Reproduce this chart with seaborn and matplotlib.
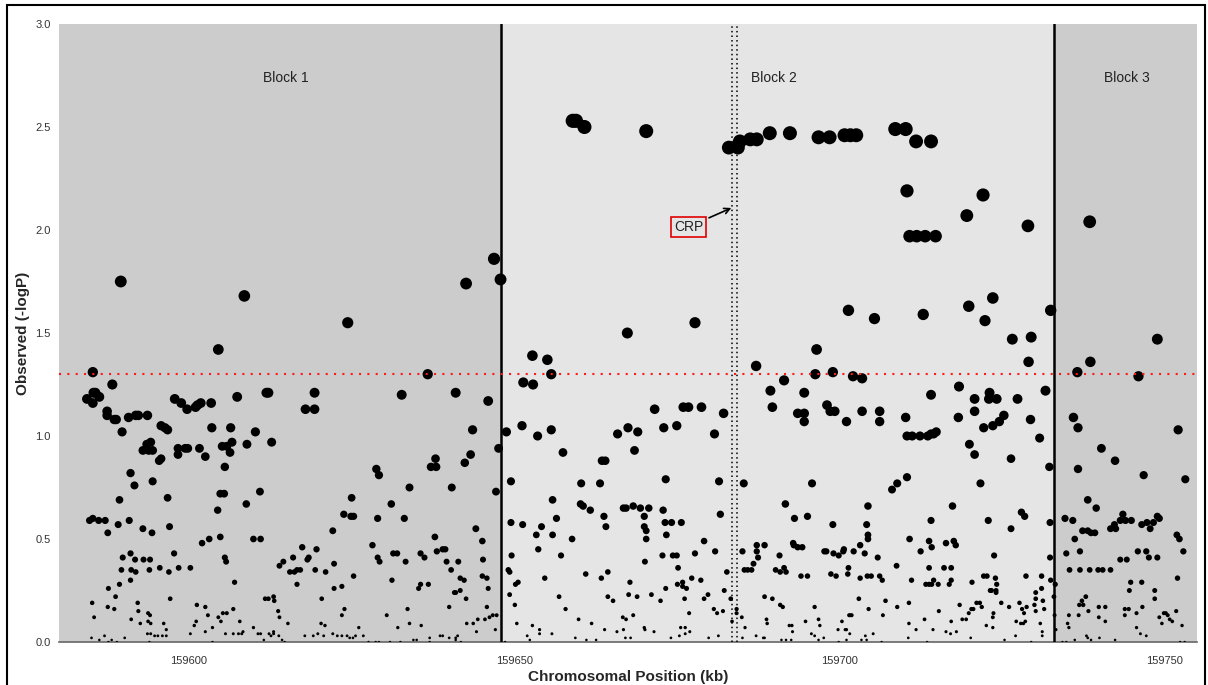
import numpy as np
import pandas as pd
import matplotlib
matplotlib.use("Agg")
import matplotlib.pyplot as plt
from matplotlib.patches import Rectangle
import seaborn as sns

# ---------------- data ----------------
block1_pos = [
159585.2,159589.5,159608.5,159604.5,159624.4,159642.6,159646.9,159647.9,159636.7,
159584.3,159585.2,159585.3,159585.6,159586.2,159588.2,159587.4,159587.4,159588.5,159588.8,
159589.7,159590.7,159591.8,159592.2,159593.6,159592.9,159593.5,159594.1,159593.8,159594.4,
159595.4,159595.7,159594.4,159595.7,159596.3,159596.7,159597.8,159598.8,159599.7,159598.3,
159598.3,159599.4,159599.8,159601.0,159601.3,159601.8,159603.4,159601.6,159602.5,159603.5,
159606.4,159607.4,159605.1,159605.8,159606.6,159606.3,159605.5,159604.8,159605.4,159604.4,
159608.9,159610.2,159612.7,159610.9,159608.8,159611.9,159612.2,159617.9,159619.3,159619.3,
159632.7,159641.0,159646.0,159643.6,159643.3,159642.4,159647.6,159647.2,159628.8,159629.2,
159633.9,159637.2,159638.0,159637.9,159640.4,159631.1,159625.0,159623.8,159624.9,159625.3,
159622.1,159629.0,159633.1,159644.1,159645.1,159591.0,159591.6,159589.3,159596.7,159597.0,
159584.7,159585.2,159586.1,159587.1,159587.5,159589.1,159590.8,159592.9,159594.3,159602.0,
159603.1,159604.8,159609.9,159611.0,159605.5,159605.7,159607.0,159628.2,159629.0,159629.3,
159631.4,159632.0,159633.3,159635.6,159636.2,159637.8,159638.1,159639.0,159639.4,159639.6,
159640.3,159641.4,159641.7,159642.3,159640.8,159641.0,159641.7,159642.6,159645.2,159645.1,
159645.8,159646.0,159645.8,159631.2,159635.3,159635.6,159636.8,159633.6,159630.4,159640.0,
159633.9,159632.1,159635.7,159642.7,159643.7,159644.4,159645.5,159646.2,159646.7,159647.3,
159644.2,159647.1,159613.9,159614.5,159615.5,159616.2,159616.6,159617.1,159616.0,159617.4,
159618.2,159618.4,159616.6,159619.4,159619.6,159621.0,159622.3,159622.3,159623.5,159623.5,
159623.9,159625.3,159620.4,159615.2,159613.7,159613.9,159611.7,159612.2,159613.0,159613.1,
159620.3,159620.9,159626.1,159613.0,159613.0,159613.8,159612.6,159611.5,159612.3,159610.6,
159611.0,159609.9,159607.8,159606.8,159608.1,159608.3,159607.6,159606.8,159605.8,159605.2,
159604.9,159604.5,159605.6,159603.6,159603.6,159602.9,159602.5,159601.2,159601.1,159600.8,
159602.5,159600.2,159598.4,159600.2,159597.7,159596.9,159595.5,159597.1,159594.0,159593.0,
159591.7,159591.0,159589.8,159589.6,159591.1,159591.8,159593.9,159591.0,159589.3,159587.6,
159588.7,159585.1,159585.4,159587.5,159588.5,159592.1,159592.2,159591.1,159592.5,159593.7,
159594.0,159593.7,159594.1,159596.1,159596.5,159593.6,159594.1,159594.7,159595.2,159595.9,
159596.5,159585.0,159586.2,159587.0,159587.6,159588.1,159588.9,159590.1,159593.9,159626.8,
159627.6,159628.7,159629.2,159630.9,159632.5,159634.5,159635.0,159637.0,159637.0,159638.6,
159639.0,159640.0,159641.0,159641.3,159641.0,159641.8,159622.1,159622.8,159623.5,159624.3,
159624.7,159625.2,159625.6,159617.8,159619.1,159619.8,159620.7,159614.3,159614.7,
]
block1_logp = [
1.31,1.75,1.68,1.42,1.55,1.74,1.86,1.76,1.30,
1.18,1.16,1.21,1.21,1.19,1.25,1.12,1.10,1.08,1.08,
1.02,1.09,1.10,1.10,1.10,0.93,0.96,0.97,0.93,0.93,
0.88,0.89,0.78,1.05,1.04,1.03,1.18,1.16,1.13,0.94,
0.91,0.94,0.94,1.14,1.15,1.16,1.16,0.94,0.90,1.04,
1.04,1.19,0.95,0.95,0.97,0.92,0.85,0.72,0.72,0.64,
0.96,1.02,0.97,0.73,0.67,1.21,1.21,1.13,1.13,1.21,
1.20,1.21,1.17,1.03,0.91,0.87,0.94,0.73,0.84,0.81,
0.75,0.85,0.85,0.89,0.75,0.67,0.70,0.62,0.61,0.61,
0.54,0.60,0.60,0.55,0.49,0.82,0.76,0.69,0.70,0.56,
0.59,0.60,0.59,0.59,0.53,0.57,0.59,0.55,0.53,0.48,
0.50,0.51,0.50,0.50,0.41,0.39,0.29,0.47,0.41,0.39,
0.43,0.43,0.39,0.43,0.41,0.51,0.44,0.45,0.45,0.39,
0.35,0.39,0.31,0.30,0.24,0.24,0.25,0.21,0.40,0.32,
0.31,0.26,0.17,0.30,0.26,0.28,0.28,0.16,0.13,0.17,
0.09,0.07,0.08,0.09,0.09,0.11,0.11,0.12,0.13,0.13,
0.05,0.06,0.37,0.39,0.34,0.34,0.35,0.35,0.41,0.46,
0.40,0.41,0.28,0.35,0.45,0.34,0.38,0.26,0.27,0.13,
0.16,0.32,0.21,0.09,0.15,0.12,0.21,0.21,0.22,0.20,
0.09,0.08,0.07,0.05,0.04,0.03,0.03,0.01,0.04,0.04,
0.04,0.07,0.10,0.16,0.04,0.05,0.04,0.04,0.14,0.14,
0.10,0.12,0.04,0.07,0.00,0.13,0.17,0.18,0.10,0.08,
0.05,0.04,0.36,0.36,0.43,0.34,0.36,0.21,0.40,0.40,
0.40,0.43,0.41,0.35,0.35,0.34,0.35,0.30,0.28,0.26,
0.22,0.19,0.12,0.17,0.16,0.19,0.15,0.11,0.09,0.14,
0.13,0.10,0.09,0.09,0.06,0.04,0.04,0.03,0.03,0.03,
0.03,0.02,0.01,0.03,0.00,0.01,0.00,0.02,0.00,0.03,
0.00,0.00,0.00,0.00,0.00,0.01,0.01,0.02,0.00,0.03,
0.03,0.02,0.02,0.03,0.01,0.00,0.04,0.03,0.03,0.03,
0.02,0.02,0.03,0.03,0.03,0.04,0.03,0.01,0.00,
]

block2_pos = [
159659.0,159659.5,159660.8,159670.3,159683.0,159684.4,159684.7,159686.3,159687.3,159689.3,
159692.4,159667.4,159677.8,159652.8,159655.1,159655.7,159687.2,159696.8,159698.5,159700.8,
159701.7,159702.6,159708.6,159710.2,159711.8,159714.1,159710.4,159722.1,159719.6,159729.0,
159710.8,159711.9,159713.2,159714.8,159701.4,159705.4,159712.9,159719.9,159722.4,159723.6,
159726.6,159729.5,159732.5,159696.5,159729.1,159696.3,159699.0,159702.1,159703.5,
159648.8,159651.4,159652.9,159689.4,159691.5,159694.6,159689.7,159693.6,159694.6,159694.6,
159698.1,159698.6,159699.3,159701.1,159651.2,159653.6,159655.7,159657.5,159665.9,159667.5,
159669.0,159668.5,159671.6,159673.0,159675.0,159676.0,159676.8,159678.8,159682.2,159680.8,
159663.5,159664.0,159649.5,159660.3,159663.2,159673.3,159681.5,159685.3,159695.8,159655.9,
159660.2,159660.6,159661.7,159663.8,159664.1,159666.8,159667.2,159668.3,159669.4,159670.0,
159670.0,159670.3,159670.3,159670.7,159672.9,159673.2,159673.4,159674.2,159675.7,159681.7,
159691.7,159693.1,159695.1,159699.0,159649.5,159651.3,159654.2,159656.5,159653.4,159655.9,
159653.7,159658.9,159657.2,159649.6,159649.1,159649.3,159650.2,159650.6,159649.3,159650.1,
159650.4,159654.7,159656.9,159657.9,159661.0,159663.4,159664.4,159664.4,159665.2,159667.6,
159668.9,159667.8,159670.1,159671.1,159672.5,159672.8,159673.3,159674.4,159675.0,159675.2,
159675.1,159675.9,159675.9,159676.5,159676.2,159677.3,159677.8,159679.2,159678.7,159679.2,
159679.8,159680.9,159682.3,159682.7,159680.7,159681.2,159682.1,159683.3,159683.5,159684.2,
159684.2,159685.1,159685.4,159685.9,159686.5,159686.8,159687.3,159687.3,159687.5,159688.5,
159690.2,159690.8,159690.9,159691.5,159691.8,159692.9,159693.0,159693.6,159694.3,159694.1,
159695.1,159697.7,159698.0,159699.1,159699.9,159700.6,159698.7,159699.5,159701.3,159701.4,
159688.5,159689.7,159690.9,159691.3,159688.8,159688.9,159692.3,159692.7,159692.8,159694.8,
159696.2,159696.8,159697.0,159695.7,159696.2,159699.8,159700.4,159701.5,159701.1,159685.0,
159685.5,159685.1,159687.2,159688.3,159688.5,159691.1,159691.8,159692.6,159696.8,159697.6,
159699.9,159666.7,159667.2,159668.3,159666.8,159667.1,159667.9,159670.0,159670.1,159671.5,
159674.1,159675.4,159675.6,159676.3,159676.3,159677.0,159676.9,159679.9,159681.4,159663.9,
159665.8,159661.9,159661.1,159662.6,159659.9,159659.4,159655.8,159652.8,159653.9,159653.9,
159652.0,159652.4,159648.6,
159731.7,159718.4,159720.8,159723.1,159723.0,159724.2,159727.4,159714.1,159703.5,159706.2,
159706.2,159710.2,159710.4,159711.2,159712.4,159713.6,159714.1,159714.5,159714.9,159718.3,
159720.8,159722.2,159723.6,159724.6,159725.3,159729.4,159730.8,159720.0,159720.8,159726.4,
159732.3,159708.1,159708.9,159710.4,159721.7,159704.4,159704.2,159704.4,159704.4,159700.7,
159702.2,159703.2,159703.9,159705.9,159703.2,159704.3,159704.9,159706.2,159706.6,159710.8,
159708.8,159711.1,159712.5,159713.8,159714.2,159714.1,159713.8,159713.3,159713.8,159714.2,
159714.5,159715.2,159716.1,159716.4,159717.4,159717.6,159717.9,159717.2,159716.9,159717.2,
159722.9,159723.8,159720.4,159722.2,159722.7,159724.0,159724.2,159724.1,159724.1,159723.2,
159723.4,159726.4,159728.0,159728.5,159728.7,159731.1,159732.4,159732.4,159732.5,159731.1,
159730.2,159730.2,159730.0,159730.2,159731.3,159731.5,159730.9,159731.2,159731.2,159728.8,
159728.4,159728.6,159728.1,159727.7,159726.1,159724.9,159727.2,159727.9,159728.3,159727.1,
159723.7,159723.6,159723.6,159722.6,159725.4,159721.6,159721.9,159721.1,159720.3,159720.6,
159719.9,159718.9,159719.5,159718.5,159718.0,159717.2,159717.1,159716.4,159720.2,159715.3,
159714.4,159713.1,159711.8,159710.7,159710.7,159710.6,159708.9,159707.1,159706.7,159706.5,
159704.5,159705.2,159703.0,159704.0,159704.2,159703.4,159701.9,159701.7,159700.9,159701.6,
159701.1,159713.5,159729.5,159733.2,159733.0,159733.1,159733.3,
]
block2_logp = [
2.53,2.53,2.50,2.48,2.40,2.40,2.43,2.44,2.44,2.47,
2.47,1.50,1.55,1.39,1.37,1.30,1.34,2.45,2.45,2.46,
2.46,2.46,2.49,2.49,2.43,2.43,2.19,2.17,2.07,2.02,
1.97,1.97,1.97,1.97,1.61,1.57,1.59,1.63,1.56,1.67,
1.47,1.48,1.61,1.42,1.36,1.30,1.31,1.29,1.28,
1.02,1.26,1.25,1.22,1.27,1.21,1.14,1.11,1.11,1.07,
1.15,1.12,1.12,1.07,1.05,1.00,1.03,0.92,1.01,1.04,
1.02,0.93,1.13,1.04,1.05,1.14,1.14,1.14,1.11,1.01,
0.88,0.88,0.78,0.77,0.77,0.79,0.78,0.77,0.77,0.69,
0.67,0.66,0.64,0.61,0.56,0.65,0.65,0.66,0.65,0.61,
0.56,0.54,0.50,0.65,0.64,0.58,0.52,0.58,0.58,0.62,
0.67,0.60,0.61,0.57,0.58,0.57,0.56,0.60,0.52,0.52,
0.45,0.50,0.42,0.42,0.35,0.34,0.28,0.29,0.23,0.18,
0.09,0.31,0.22,0.16,0.33,0.31,0.34,0.22,0.20,0.23,
0.22,0.29,0.39,0.23,0.20,0.42,0.26,0.42,0.42,0.36,
0.28,0.29,0.27,0.26,0.21,0.31,0.43,0.49,0.30,0.21,
0.23,0.44,0.25,0.34,0.16,0.14,0.15,0.21,0.10,0.16,
0.14,0.44,0.35,0.35,0.35,0.38,0.47,0.44,0.41,0.47,
0.35,0.42,0.34,0.36,0.34,0.48,0.47,0.46,0.46,0.32,
0.32,0.44,0.44,0.43,0.42,0.44,0.33,0.32,0.33,0.36,
0.22,0.21,0.18,0.17,0.11,0.09,0.08,0.08,0.05,0.10,
0.17,0.11,0.08,0.04,0.03,0.06,0.10,0.13,0.06,0.12,
0.07,0.02,0.03,0.02,0.02,0.01,0.01,0.01,0.01,0.02,
0.00,0.12,0.11,0.13,0.06,0.02,0.02,0.07,0.06,0.05,
0.02,0.03,0.07,0.07,0.04,0.05,0.14,0.02,0.03,0.06,
0.05,0.09,0.01,0.01,0.11,0.02,0.04,0.08,0.06,0.04,
0.03,0.01,0.00,
1.22,1.24,1.18,1.21,1.18,1.18,1.18,1.20,1.12,1.12,
1.07,1.09,1.00,1.00,1.00,1.00,1.01,1.01,1.02,1.09,
1.12,1.04,1.05,1.07,1.10,1.08,0.99,0.96,0.91,0.89,
0.85,0.74,0.77,0.80,0.77,0.66,0.57,0.52,0.50,0.45,
0.44,0.47,0.43,0.41,0.31,0.32,0.32,0.32,0.30,0.50,
0.37,0.30,0.44,0.49,0.46,0.59,0.36,0.28,0.28,0.28,
0.30,0.28,0.36,0.48,0.66,0.49,0.47,0.36,0.28,0.30,
0.59,0.42,0.29,0.32,0.32,0.31,0.28,0.25,0.24,0.25,
0.25,0.55,0.63,0.61,0.32,0.32,0.58,0.41,0.30,0.26,
0.24,0.21,0.18,0.15,0.20,0.16,0.09,0.05,0.03,0.17,
0.14,0.10,0.16,0.19,0.17,0.19,0.10,0.09,0.09,0.03,
0.14,0.12,0.07,0.08,0.01,0.19,0.17,0.19,0.16,0.16,
0.14,0.11,0.11,0.18,0.05,0.10,0.04,0.05,0.02,0.15,
0.06,0.11,0.06,0.09,0.19,0.02,0.17,0.20,0.13,0.00,
0.16,0.04,0.21,0.03,0.01,0.01,0.13,0.13,0.06,0.04,
0.01,0.00,0.00,0.28,0.22,0.13,0.06,
]

block3_pos = [
159738.5,159738.6,159736.6,159746.0,159748.9,159736.0,159736.7,159736.7,159740.3,159742.4,
159746.8,159752.1,159753.2,159738.2,159739.5,159734.7,159735.9,159736.2,159737.4,159738.2,
159738.7,159739.3,159741.7,159742.5,159742.3,159743.2,159744.0,159743.6,159744.9,159746.5,
159747.3,159747.8,159748.3,159748.9,159749.2,159751.9,159752.3,159752.9,159734.9,159737.0,
159735.4,159737.0,159738.5,159739.8,159740.5,159741.7,159743.2,159744.2,159745.9,159747.2,
159747.6,159748.9,159752.0,159744.8,159744.6,159746.5,159748.5,159748.5,159737.9,159737.3,
159736.9,159737.5,159738.3,159736.8,159735.3,159735.1,159735.3,159739.9,159739.9,159740.9,
159740.9,159743.9,159744.5,159743.9,159745.7,159746.6,159749.2,159749.6,159749.9,159750.2,
159750.5,159750.8,159751.2,159751.8,159752.7,159745.7,159746.3,159747.2,159738.0,159738.2,
159738.7,159736.2,159734.3,159734.9,159742.4,159752.4,159753.1,159740.0,
]
block3_logp = [
2.04,1.36,1.31,1.29,1.47,1.09,1.04,0.84,0.94,0.88,
0.81,1.03,0.79,0.69,0.65,0.60,0.59,0.50,0.54,0.54,
0.53,0.53,0.55,0.55,0.57,0.59,0.59,0.62,0.59,0.57,
0.58,0.55,0.58,0.61,0.60,0.52,0.50,0.44,0.43,0.44,
0.35,0.35,0.35,0.35,0.35,0.35,0.40,0.40,0.44,0.44,
0.41,0.41,0.31,0.29,0.25,0.29,0.25,0.21,0.22,0.20,
0.18,0.18,0.15,0.13,0.13,0.09,0.07,0.17,0.12,0.17,
0.10,0.16,0.16,0.13,0.14,0.17,0.12,0.09,0.14,0.14,
0.13,0.11,0.10,0.15,0.08,0.07,0.04,0.03,0.03,0.02,
0.01,0.01,0.00,0.00,0.01,0.00,0.00,0.02,
]

block_edges = [159580, 159648, 159733, 159755]
block_names = ["Block 1", "Block 2", "Block 3"]
block_label_x = [159614.9, 159690.0, 159744.2]
block_colors = ["#cccccc", "#e5e5e5", "#cccccc"]
crp_lines = [159683.5, 159684.3]
threshold = 1.3
x_ticks = [159600, 159650, 159700, 159750]
y_ticks = [0.0, 0.5, 1.0, 1.5, 2.0, 2.5, 3.0]

df = pd.DataFrame({
    "pos": block1_pos + block2_pos + block3_pos,
    "logp": block1_logp + block2_logp + block3_logp,
})

# ---------------- plot ----------------
sns.set_style("white")
plt.rcParams["font.family"] = ["Liberation Sans", "DejaVu Sans"]

fig = plt.figure(figsize=(12.08, 6.85), dpi=100)
ax = fig.add_axes([59/1208, 43/685, (1197-59)/1208, (642-24)/685])

for i in range(3):
    ax.axvspan(block_edges[i], block_edges[i+1], color=block_colors[i], lw=0, zorder=0)

sns.scatterplot(data=df, x="pos", y="logp", size="logp", sizes=(3, 105),
                size_norm=(0, 2.55), color="black", edgecolor="none",
                legend=False, ax=ax, zorder=3)

for xb in block_edges[1:3]:
    ax.axvline(xb, color="black", lw=1.8, zorder=4)
for xc in crp_lines:
    ax.axvline(xc, color="black", lw=1.1, ls=(0, (1, 2)), zorder=4)
ax.axhline(threshold, color="#ff1a1a", lw=1.5, ls=(0, (1, 3)), zorder=5)

for name, xl in zip(block_names, block_label_x):
    ax.text(xl, 2.74, name, ha="center", va="center", fontsize=10, color="#222222")

ax.annotate("CRP", xy=(159683.4, 2.107), xytext=(159676.8, 2.015),
            ha="center", va="center", fontsize=10, color="#222222",
            bbox=dict(boxstyle="square,pad=0.2", fc="none", ec="#e00000", lw=1.2),
            arrowprops=dict(arrowstyle="->", color="black", lw=1.2, shrinkA=2, shrinkB=0),
            zorder=6)

ax.set_xlim(block_edges[0], block_edges[-1])
ax.set_ylim(0, 3.0)
ax.set_xticks(x_ticks)
ax.set_yticks(y_ticks)
ax.set_yticklabels([f"{v:.1f}" for v in y_ticks])
ax.set_xticklabels([str(v) for v in x_ticks])
ax.tick_params(axis="both", labelsize=8, colors="#333333", length=4, width=0.8,
               direction="out", pad=2)
ax.tick_params(axis="x", pad=6)

for s in ["top", "right", "left"]:
    ax.spines[s].set_visible(False)
ax.spines["bottom"].set_color("#666666")
ax.spines["bottom"].set_linewidth(1.2)

ax.set_xlabel("Chromosomal Position (kb)", fontsize=11, fontweight="bold", labelpad=3)
ax.set_ylabel("Observed (-logP)", fontsize=11, fontweight="bold", labelpad=4)

# outer frame
fig.patches.append(Rectangle((7/1208, -0.02), (1205-7)/1208, (685-5)/685 + 0.02,
                             transform=fig.transFigure, fill=False, ec="black", lw=1.5))

fig.savefig("out.png", dpi=100)
